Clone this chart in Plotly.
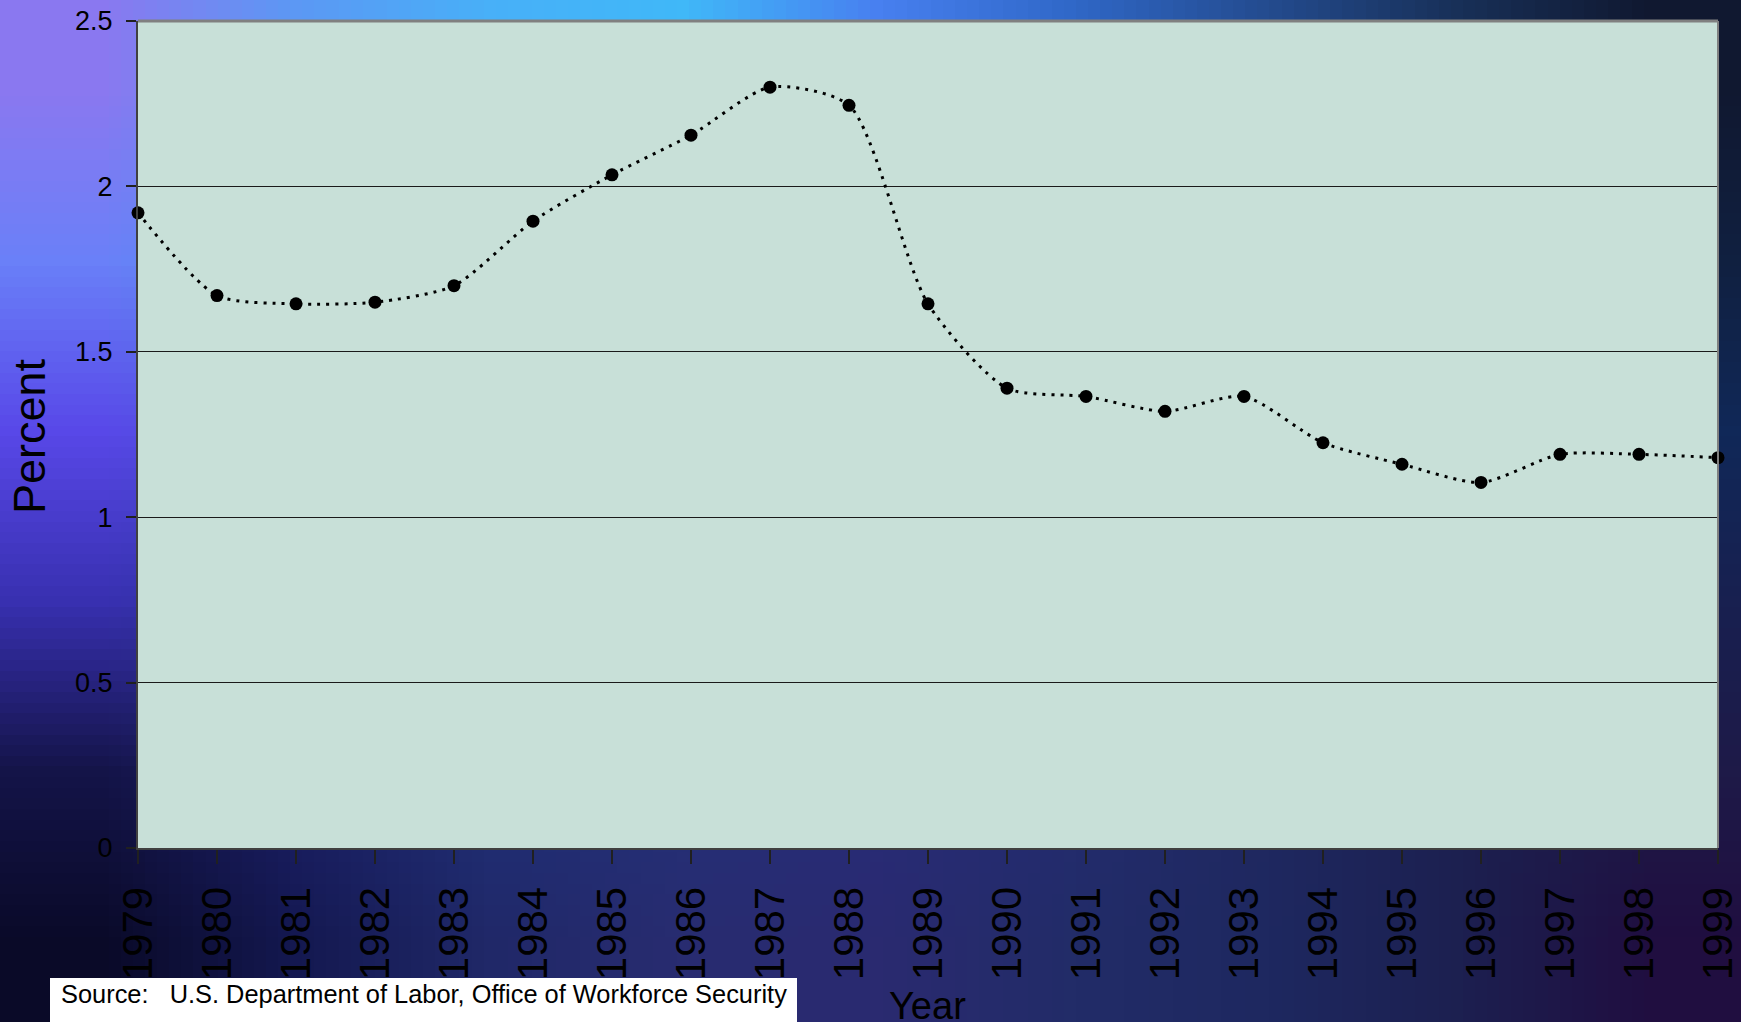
import base64
import struct
import zlib

import plotly.graph_objects as go

# ---------------- data ----------------
years = [1979, 1980, 1981, 1982, 1983, 1984, 1985, 1986, 1987, 1988, 1989,
         1990, 1991, 1992, 1993, 1994, 1995, 1996, 1997, 1998, 1999]
year_labels = [str(y) for y in years]
percent = [1.92, 1.67, 1.645, 1.65, 1.70, 1.895, 2.035, 2.155, 2.30, 2.245, 1.645,
           1.39, 1.365, 1.32, 1.365, 1.225, 1.16, 1.105, 1.19, 1.19, 1.18]
y_ticks = [0, 0.5, 1, 1.5, 2, 2.5]
y_tick_labels = ["0", "0.5", "1", "1.5", "2", "2.5"]
source_text = "Source:   U.S. Department of Labor, Office of Workforce Security"

# ---------------- layout geometry ----------------
W, H = 1741, 1022
L, R, T, B = 138, 23, 21, 174
PW, PH = W - L - R, H - T - B


def px_x(x):
    return (x - L) / PW


def px_y(y):
    return (H - B - y) / PH


# ---------------- background gradient image ----------------
bg_rows = [
    ["8A78F0", "5C98F4", "48B0F8", "40B8F8", "4880F0", "3068C8", "244C90", "183058", "101830"],
    ["6A80F8", "5090F0", "4898F0", "4088E8", "3870D0", "2858A8", "204078", "183058", "102040"],
    ["5848E8", "4858D8", "4070D0", "3868C0", "3058B0", "284890", "203870", "183060", "102858"],
    ["3830B0", "3038A0", "2C4090", "284088", "284080", "243870", "203060", "1C2850", "182050"],
    ["141448", "1C2068", "203078", "243078", "282C78", "242C70", "202860", "1C2050", "1E1A48"],
    ["0A0A28", "141850", "202868", "282C70", "2A2A70", "222C68", "1E2860", "1C2050", "200E40"],
]


def make_png(rows):
    raw = b""
    for row in rows:
        raw += b"\x00" + b"".join(bytes.fromhex(c) for c in row)

    def chunk(tag, data):
        c = struct.pack(">I", len(data)) + tag + data
        return c + struct.pack(">I", zlib.crc32(tag + data) & 0xFFFFFFFF)

    png = b"\x89PNG\r\n\x1a\n"
    png += chunk(b"IHDR", struct.pack(">IIBBBBB", len(rows[0]), len(rows), 8, 2, 0, 0, 0))
    png += chunk(b"IDAT", zlib.compress(raw))
    png += chunk(b"IEND", b"")
    return "data:image/png;base64," + base64.b64encode(png).decode()


bg_src = make_png(bg_rows)

FONT = "Liberation Sans, Arial, sans-serif"

fig = go.Figure()
fig.add_trace(go.Scatter(
    x=years, y=percent,
    mode="lines+markers",
    line=dict(color="black", width=3, dash="3px,6px", shape="spline", smoothing=0.7),
    marker=dict(color="black", size=13),
    cliponaxis=False,
    showlegend=False,
    hoverinfo="x+y",
))

fig.update_layout(
    width=W, height=H,
    margin=dict(l=L, r=R, t=T, b=B, pad=0),
    paper_bgcolor="#1a2050",
    plot_bgcolor="rgba(0,0,0,0)",
    font=dict(family=FONT, color="black"),
    images=[dict(
        source=bg_src, xref="paper", yref="paper",
        x=px_x(0), y=px_y(0), sizex=W / PW, sizey=H / PH,
        xanchor="left", yanchor="top", sizing="stretch", layer="below",
    )],
    shapes=[
        dict(type="rect", xref="paper", yref="paper", x0=0, x1=1, y0=0, y1=1,
             fillcolor="#C8E0D8", line=dict(width=0), layer="below"),
        dict(type="line", xref="paper", yref="paper", x0=0, x1=1, y0=1, y1=1,
             line=dict(color="#808080", width=3), layer="above"),
        dict(type="line", xref="paper", yref="paper", x0=1, x1=1, y0=0, y1=1,
             line=dict(color="#808080", width=2), layer="above"),
        dict(type="rect", xref="paper", yref="paper",
             x0=px_x(50), x1=px_x(797), y0=px_y(H + 5), y1=px_y(978),
             fillcolor="white", line=dict(width=0), layer="above"),
    ],
    xaxis=dict(
        range=[years[0], years[-1]],
        tickmode="array", tickvals=years, ticktext=year_labels,
        tickangle=-90, tickfont=dict(size=42, family=FONT, color="black"),
        ticks="outside", ticklen=14, tickwidth=1.5, tickcolor="#202020",
        ticklabelstandoff=6,
        showgrid=False, zeroline=False,
        showline=True, linecolor="#404040", linewidth=2,
        automargin=False, fixedrange=True,
    ),
    yaxis=dict(
        range=[0, 2.5],
        tickmode="array", tickvals=y_ticks, ticktext=y_tick_labels,
        tickfont=dict(size=27, family=FONT, color="black"),
        ticks="outside", ticklen=10, tickwidth=1.5, tickcolor="#202020",
        ticklabelstandoff=8,
        showgrid=True, gridcolor="#1a1a1a", gridwidth=1,
        zeroline=False,
        showline=True, linecolor="#404040", linewidth=2,
        automargin=False, fixedrange=True,
    ),
    annotations=[
        dict(text="Percent", xref="paper", yref="paper", x=px_x(30), y=px_y(436),
             textangle=-90, showarrow=False, xanchor="center", yanchor="middle",
             font=dict(size=45, family=FONT, color="black")),
        dict(text="Year", xref="paper", yref="paper", x=px_x(927), y=px_y(983),
             showarrow=False, xanchor="center", yanchor="top",
             font=dict(size=38, family=FONT, color="black")),
        dict(text=source_text, xref="paper", yref="paper", x=px_x(59), y=px_y(994),
             showarrow=False, xanchor="left", yanchor="middle",
             font=dict(size=25.4, family=FONT, color="black")),
    ],
)

fig.write_html("out.html", config=dict(displayModeBar=False),
               post_script="document.body.style.margin='0px';document.body.style.overflow='hidden';")
